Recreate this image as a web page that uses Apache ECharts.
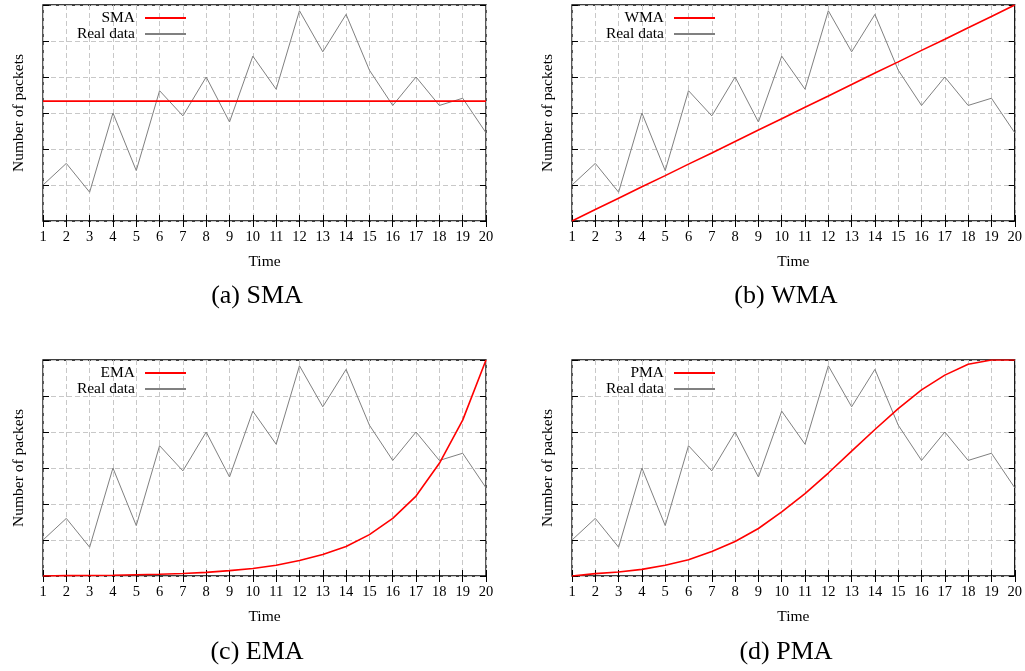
<!DOCTYPE html>
<html>
<head>
<meta charset="utf-8">
<script src="https://cdn.jsdelivr.net/npm/echarts@6/dist/echarts.min.js"></script>
<style>
html,body{margin:0;padding:0;background:#fff;}
#chart{width:1025px;height:671px;}
</style>
</head>
<body>
<div id="chart"></div>
<script>
// ---- data ----
const timeSteps = [1,2,3,4,5,6,7,8,9,10,11,12,13,14,15,16,17,18,19,20];
const realData = [1.0, 1.6, 0.8, 3.0, 1.4, 3.62, 2.92, 4.0, 2.75, 4.58, 3.66, 5.84, 4.7, 5.74, 4.19, 3.21, 4.0, 3.21, 3.41, 2.45];
const smaData = [3.33, 3.33, 3.33, 3.33, 3.33, 3.33, 3.33, 3.33, 3.33, 3.33, 3.33, 3.33, 3.33, 3.33, 3.33, 3.33, 3.33, 3.33, 3.33, 3.33];
const wmaData = [0, 0.32, 0.63, 0.95, 1.26, 1.58, 1.89, 2.21, 2.53, 2.84, 3.16, 3.47, 3.79, 4.11, 4.42, 4.74, 5.05, 5.37, 5.68, 6.0];
const emaData = [0, 0.01, 0.015, 0.02, 0.035, 0.05, 0.07, 0.1, 0.15, 0.21, 0.3, 0.43, 0.6, 0.82, 1.15, 1.6, 2.22, 3.13, 4.33, 6.0];
const pmaData = [0, 0.065, 0.11, 0.185, 0.3, 0.45, 0.68, 0.96, 1.32, 1.78, 2.29, 2.86, 3.47, 4.07, 4.65, 5.17, 5.58, 5.88, 6.0, 6.0];
const panelNames = ['SMA', 'WMA', 'EMA', 'PMA'];
const panelCaptions = ['(a) SMA', '(b) WMA', '(c) EMA', '(d) PMA'];
const panelData = [smaData, wmaData, emaData, pmaData];
const yTicks = [0, 1, 2, 3, 4, 5, 6];
const xAxisName = 'Time';
const yAxisName = 'Number of packets';
const realName = 'Real data';

// ---- layout ----
const FONT = 'Liberation Serif';
const grids = [
  {left: 43, top: 5, width: 443, height: 216},
  {left: 572, top: 5, width: 443, height: 216},
  {left: 43, top: 360, width: 443, height: 216},
  {left: 572, top: 360, width: 443, height: 216}
];
const legendRight = [838, 309, 838, 309];
const captionX = [257, 786, 257, 786];
const captionY = [283, 283, 639, 639];

const pair = (arr) => arr.map((v, i) => [timeSteps[i], v]);
const xMin = timeSteps[0], xMax = timeSteps[timeSteps.length - 1];
const yMin = yTicks[0], yMax = yTicks[yTicks.length - 1];

const option = {
  backgroundColor: '#fff',
  animation: false,
  grid: grids.map(g => Object.assign({show: true, borderColor: '#000', borderWidth: 1.3, backgroundColor: 'transparent', containLabel: false}, g)),
  title: panelCaptions.map((t, i) => ({
    text: t, left: captionX[i], top: captionY[i], textAlign: 'center', padding: 0,
    textStyle: {fontFamily: FONT, fontSize: 26, fontWeight: 'normal', color: '#000'}
  })),
  legend: panelNames.map((n, i) => ({
    data: [n, realName],
    orient: 'vertical', align: 'right',
    right: legendRight[i], top: grids[i].top + 5, padding: 0,
    itemWidth: 41, itemHeight: 12, itemGap: 0,
    selectedMode: false,
    itemStyle: {opacity: 0},
    textStyle: {fontFamily: FONT, fontSize: 15.5, color: '#000', padding: [0, 5, 0, 0]}
  })),
  xAxis: [],
  yAxis: [],
  series: []
};

grids.forEach((g, i) => {
  option.xAxis.push({
    type: 'value', gridIndex: i, min: xMin, max: xMax, interval: 1, position: 'bottom',
    name: xAxisName, nameLocation: 'middle', nameGap: 33,
    nameTextStyle: {fontFamily: FONT, fontSize: 15.5, color: '#000'},
    axisLine: {show: false},
    axisTick: {show: true, inside: true, length: 6, lineStyle: {color: '#000', width: 1}},
    axisLabel: {fontFamily: FONT, fontSize: 14.5, color: '#000', margin: 9},
    splitLine: {show: true, lineStyle: {color: '#c8c8c8', type: [5, 3], width: 1}}
  });
  option.xAxis.push({
    type: 'value', gridIndex: i, min: xMin, max: xMax, interval: 1, position: 'top',
    axisLine: {show: false},
    axisTick: {show: true, inside: true, length: 6, lineStyle: {color: '#000', width: 1}},
    axisLabel: {show: false}, splitLine: {show: false}
  });
  option.yAxis.push({
    type: 'value', gridIndex: i, min: yMin, max: yMax, interval: 1, position: 'left',
    name: yAxisName, nameLocation: 'middle', nameGap: 16, nameRotate: 90,
    nameTextStyle: {fontFamily: FONT, fontSize: 15.5, color: '#000'},
    axisLine: {show: false},
    axisTick: {show: true, inside: true, length: 6, lineStyle: {color: '#000', width: 1}},
    axisLabel: {show: false},
    splitLine: {show: true, lineStyle: {color: '#c8c8c8', type: [5, 3], width: 1}}
  });
  option.yAxis.push({
    type: 'value', gridIndex: i, min: yMin, max: yMax, interval: 1, position: 'right',
    axisLine: {show: false},
    axisTick: {show: true, inside: true, length: 6, lineStyle: {color: '#000', width: 1}},
    axisLabel: {show: false}, splitLine: {show: false}
  });
  option.series.push({
    name: panelNames[i], type: 'line', xAxisIndex: i * 2, yAxisIndex: i * 2,
    data: pair(panelData[i]), symbol: 'none', smooth: false,
    color: '#ff0000', lineStyle: {color: '#ff0000', width: 1.6}, z: 3
  });
  option.series.push({
    name: realName, type: 'line', xAxisIndex: i * 2, yAxisIndex: i * 2,
    data: pair(realData), symbol: 'none',
    color: '#808080', lineStyle: {color: '#808080', width: 1}, z: 2
  });
});

const chart = echarts.init(document.getElementById('chart'), null, {renderer: 'canvas'});
chart.setOption(option);
</script>
</body>
</html>
